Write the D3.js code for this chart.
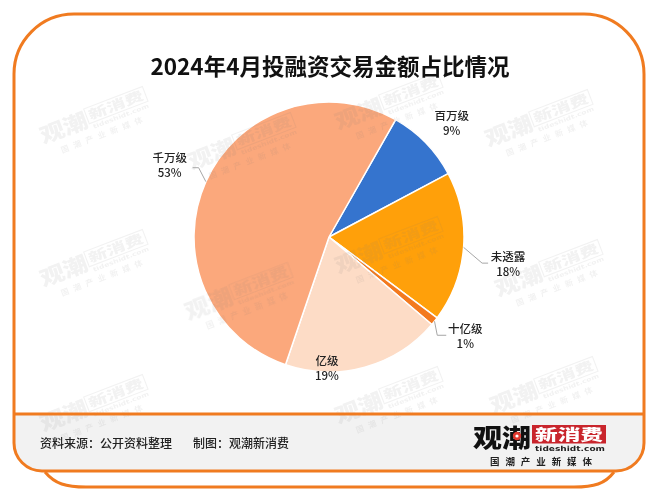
<!DOCTYPE html>
<html><head><meta charset="utf-8">
<script src="https://cdn.jsdelivr.net/npm/d3@7"></script>
<style>
html,body{margin:0;padding:0;background:#fff;}
svg{display:block;font-family:"Noto Sans CJK SC","Noto Sans",sans-serif;}
</style>
</head><body>
<svg id="c" width="660" height="502"></svg>
<script>
// ---- data ----
const chartTitle = "2024年4月投融资交易金额占比情况";
const categories = ["百万级", "未透露", "十亿级", "亿级", "千万级"];
const values = [9, 18, 1, 19, 53];
const sliceColors = ["#3574CE", "#FFA00A", "#F37A1F", "#FDDCC6", "#FBA87C"];
const sourceText = "资料来源：公开资料整理";
const makerText = "制图：观潮新消费";

// ---- layout ----
const svg = d3.select("#c");
const W = 660, H = 502;
const orange = "#F07B20";
const fx0 = 14, fx1 = 644, fy0 = 14, fy1 = 471, rt = 60, rb = 28, footY = 414;

const framePath = `M${fx0},${fy0+rt} A${rt},${rt} 0 0 1 ${fx0+rt},${fy0} L${fx1-rt},${fy0} A${rt},${rt} 0 0 1 ${fx1},${fy0+rt} L${fx1},${fy1-rb} A${rb},${rb} 0 0 1 ${fx1-rb},${fy1} L${fx0+rb},${fy1} A${rb},${rb} 0 0 1 ${fx0},${fy1-rb} Z`;

const defs = svg.append("defs");
defs.append("clipPath").attr("id", "frameClip").append("path").attr("d", framePath);

// bottom tab
svg.append("path")
  .attr("d", `M45,${fy1+1} C55,484 66,487 86,487 L574,487 C594,487 605,484 614,${fy1+1}`)
  .attr("fill", "#fff").attr("stroke", orange).attr("stroke-width", 3);

svg.append("path").attr("d", framePath).attr("fill", "#fff");
svg.append("rect").attr("clip-path", "url(#frameClip)")
  .attr("x", 0).attr("y", footY).attr("width", W).attr("height", fy1 - footY)
  .attr("fill", "#F2F2F2");

// logo drawer
function drawLogo(g, mono) {
  const ink = mono ? "#7a7a7a" : "#111";
  const red = mono ? "none" : "#C9252C";
  g.append("text").attr("x", 0).attr("y", 21.5)
    .attr("font-size", 25).attr("font-weight", 900).attr("fill", ink)
    .attr("textLength", 58).attr("lengthAdjust", "spacingAndGlyphs")
    .text("观潮");
  if (!mono) {
    g.append("circle").attr("cx", 44).attr("cy", 11).attr("r", 4.2).attr("fill", "#E0362C");
    g.append("circle").attr("cx", 44).attr("cy", 11).attr("r", 1.6).attr("fill", "#fff");
  }
  g.append("rect").attr("x", 59).attr("y", 0).attr("width", 74).attr("height", 18.5)
    .attr("fill", red).attr("stroke", mono ? ink : "none").attr("stroke-width", 1.2);
  g.append("text").attr("x", 96).attr("y", 14.8).attr("text-anchor", "middle")
    .attr("font-size", 15).attr("font-weight", 900).attr("fill", mono ? ink : "#fff")
    .attr("textLength", 68).attr("lengthAdjust", "spacingAndGlyphs")
    .text("新消费");
  g.append("text").attr("x", 62).attr("y", 26)
    .attr("font-size", 7).attr("font-weight", 700).attr("fill", mono ? ink : "#222")
    .attr("font-family", "DejaVu Sans")
    .attr("textLength", 70).attr("lengthAdjust", "spacingAndGlyphs")
    .text("tideshidt.com");
  g.append("text").attr("x", 17).attr("y", 39.5)
    .attr("font-size", 9.5).attr("font-weight", 700).attr("fill", mono ? ink : "#222")
    .attr("textLength", 102).attr("lengthAdjust", "spacing")
    .text("国潮产业新媒体");
}

// ---- pie ----
const cx = 329, cy = 237, R = 135;
const deg = Math.PI / 180;
const start = 29.6 * deg;
const pie = d3.pie().sort(null).value(d => d.v).startAngle(start).endAngle(start + 2 * Math.PI);
const data = categories.map((c, i) => ({ c, v: values[i], col: sliceColors[i] }));
const arcs = pie(data);
const arc = d3.arc().innerRadius(0).outerRadius(R);

const pg = svg.append("g").attr("transform", `translate(${cx},${cy})`);
pg.selectAll("path").data(arcs).join("path")
  .attr("d", arc).attr("fill", d => d.data.col)
  .attr("stroke", "#fff").attr("stroke-width", 1.5).attr("stroke-linejoin", "round");

// watermarks
const wmPos = [[95,122],[390,108],[540,125],[243,148],[95,265],[390,252],[550,275],[240,298],[95,410],[390,402],[545,392]];
const wm = svg.append("g").attr("clip-path", "url(#frameClip)").attr("opacity", 0.1);
wmPos.forEach(p => {
  const g = wm.append("g").attr("transform", `translate(${p[0]},${p[1]}) rotate(-21) scale(0.85) translate(-66,-19)`);
  drawLogo(g, true);
});

// labels
const labelCfg = {
  "百万级": { r: 168, da: 1.1 },
  "未透露": { r: 181, da: 3.9 },
  "十亿级": { r: 168, da: -2.8 },
  "亿级":   { r: 131, da: 16.3 },
  "千万级": { r: 175, da: 0.2 }
};
const leaderCfg = {
  "千万级": [[29, 3], [23, 3]],
  "未透露": [[-26, 0], [-20, 0]],
  "十亿级": [[-28, 0], [-19, 0]]
};
const total = d3.sum(values);
const polar = (a, r) => [Math.sin(a) * r, -Math.cos(a) * r];
const lg = svg.append("g").attr("transform", `translate(${cx},${cy})`);
arcs.forEach(d => {
  const name = d.data.c;
  const mid = (d.startAngle + d.endAngle) / 2;
  const cfg = labelCfg[name];
  const [lx, ly] = polar(mid + cfg.da * deg, cfg.r);
  if (leaderCfg[name]) {
    const [ex, ey] = polar(mid, R);
    const [e1, e2] = leaderCfg[name];
    lg.append("polyline")
      .attr("points", [[ex, ey], [lx + e1[0], ly + e1[1]], [lx + e2[0], ly + e2[1]]].map(p => p.join(",")).join(" "))
      .attr("fill", "none").attr("stroke", "#A6A6A6").attr("stroke-width", 1);
  }
  [[name, -7.5], [Math.round(d.data.v / total * 100) + "%", 7.5]].forEach(([txt, dy]) => {
    lg.append("text").attr("text-anchor", "middle")
      .attr("x", lx).attr("y", ly + dy).attr("dominant-baseline", "central")
      .attr("font-size", 11.5).attr("font-weight", 500).attr("fill", "#222")
      .text(txt);
  });
});

// title
svg.append("text").attr("x", 330).attr("y", 65).attr("text-anchor", "middle")
  .attr("dominant-baseline", "central")
  .attr("font-size", 22.5).attr("font-weight", 700).attr("fill", "#111")
  .text(chartTitle);

// footer
svg.append("line").attr("x1", fx0).attr("x2", fx1).attr("y1", footY).attr("y2", footY)
  .attr("stroke", orange).attr("stroke-width", 3);
svg.append("path").attr("d", framePath).attr("fill", "none").attr("stroke", orange).attr("stroke-width", 3);

svg.append("text").attr("x", 40).attr("y", 442).attr("dominant-baseline", "central")
  .attr("font-size", 12).attr("font-weight", 500).attr("fill", "#222").text(sourceText);
svg.append("text").attr("x", 193).attr("y", 442).attr("dominant-baseline", "central")
  .attr("font-size", 12).attr("font-weight", 500).attr("fill", "#222").text(makerText);

drawLogo(svg.append("g").attr("transform", "translate(473,425)"), false);
</script>
</body></html>
